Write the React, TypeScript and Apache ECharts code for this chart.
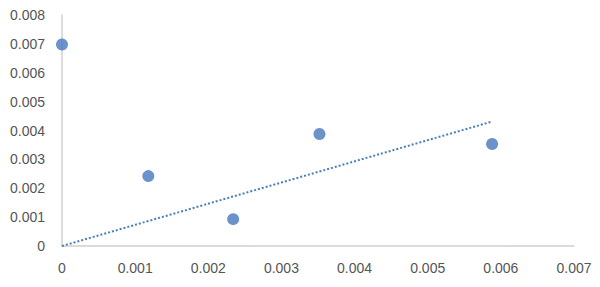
import React, { useEffect, useRef } from "react";
import * as echarts from "echarts";

const xValues = [0, 0.00118, 0.00234, 0.00352, 0.00588];
const yValues = [0.00698, 0.00242, 0.00093, 0.00388, 0.00353];
const trendX = [0, 0.00588];
const trendY = [0, 0.00431];
const xTicks = [0, 0.001, 0.002, 0.003, 0.004, 0.005, 0.006, 0.007];
const yTicks = [0, 0.001, 0.002, 0.003, 0.004, 0.005, 0.006, 0.007, 0.008];

const fmt = (v: number) => (Math.abs(v) < 1e-12 ? "0" : v.toFixed(3));

export default function App() {
  const ref = useRef<HTMLDivElement>(null);
  useEffect(() => {
    if (!ref.current) return;
    const chart = echarts.init(ref.current, undefined, { renderer: "svg" });
    const labelStyle = {
      color: "#555555",
      fontSize: 14,
      fontFamily: "Liberation Sans, Arial, sans-serif",
    };
    chart.setOption({
      animation: false,
      backgroundColor: "#ffffff",
      grid: { left: 62, right: 26, top: 15, bottom: 41, containLabel: false },
      xAxis: {
        type: "value",
        min: xTicks[0],
        max: xTicks[xTicks.length - 1],
        interval: 0.001,
        axisLine: { show: true, lineStyle: { color: "#d0d0d0", width: 1.5 } },
        axisTick: { show: false },
        splitLine: { show: false },
        axisLabel: { ...labelStyle, margin: 15, formatter: fmt },
      },
      yAxis: {
        type: "value",
        min: yTicks[0],
        max: yTicks[yTicks.length - 1],
        interval: 0.001,
        axisLine: { show: true, lineStyle: { color: "#d0d0d0", width: 1.5 } },
        axisTick: { show: false },
        splitLine: { show: false },
        axisLabel: { ...labelStyle, margin: 17, formatter: fmt },
      },
      series: [
        {
          type: "line",
          data: trendX.map((x, i) => [x, trendY[i]]),
          showSymbol: false,
          symbol: "none",
          lineStyle: { color: "#4a7ebb", width: 2, type: [2, 2] },
          z: 1,
        },
        {
          type: "scatter",
          data: xValues.map((x, i) => [x, yValues[i]]),
          symbol: "circle",
          symbolSize: 12,
          itemStyle: { color: "#4677be" },
          z: 2,
        },
      ],
    });
    return () => chart.dispose();
  }, []);
  return <div ref={ref} style={{ width: 600, height: 287, marginLeft: -8, marginTop: -8 }} />;
}
